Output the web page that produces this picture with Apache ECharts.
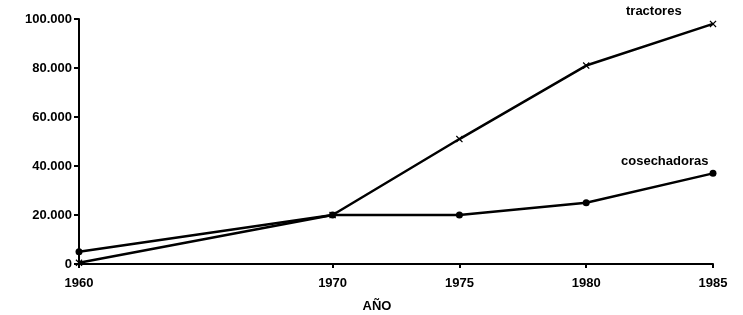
<!DOCTYPE html>
<html><head><meta charset="utf-8">
<script src="https://cdn.jsdelivr.net/npm/echarts@6/dist/echarts.min.js"></script>
<style>html,body{margin:0;padding:0;background:#fff}#c{width:743px;height:315px}</style>
</head><body><div id="c"></div>
<script>
const years = [1960, 1970, 1975, 1980, 1985];
const tractores = [500, 20000, 51000, 81000, 98000];
const cosechadoras = [5000, 20000, 20000, 25000, 37000];
const yTicks = [0, 20000, 40000, 60000, 80000, 100000];
const seriesNames = ['tractores', 'cosechadoras'];
const xName = 'AÑO';

const font = '"Liberation Sans", Arial, sans-serif';
function pairs(vals){ return years.map((y,i)=>[y, vals[i]]); }
const crossPath = 'path://M0,0L3,3L0,6L1,7L4,4L7,7L8,6L5,3L8,0L7,-1L4,2L1,-1Z';

const chart = echarts.init(document.getElementById('c'));
chart.setOption({
  animation: false,
  backgroundColor: '#fff',
  grid: {left: 79, right: 30, top: 19, bottom: 51, containLabel: false, outerBoundsMode: 'none'},
  xAxis: {
    type: 'value', min: 1960, max: 1985, interval: 5,
    splitLine: {show: false},
    axisLine: {show: true, lineStyle: {color: '#000', width: 2}},
    axisTick: {show: true, length: 4, customValues: years, lineStyle: {color: '#000', width: 2}},
    axisLabel: {customValues: years, color: '#000', fontFamily: font, fontWeight: 'bold', fontSize: 13, margin: 13, formatter: v => String(v)},
    name: xName, nameLocation: 'middle', nameGap: 36,
    nameTextStyle: {color: '#000', fontFamily: font, fontWeight: 'bold', fontSize: 13, padding: [0, 38, 0, 0]}
  },
  yAxis: {
    type: 'value', min: 0, max: 100000, interval: 20000,
    splitLine: {show: false},
    axisLine: {show: true, lineStyle: {color: '#000', width: 2}},
    axisTick: {show: true, length: 5, lineStyle: {color: '#000', width: 2}},
    axisLabel: {color: '#000', fontFamily: font, fontWeight: 'bold', fontSize: 13, margin: 7,
      formatter: v => v === 0 ? '0' : v.toLocaleString('de-DE')}
  },
  series: [
    {
      name: seriesNames[0], type: 'line', data: pairs(tractores),
      symbol: crossPath, symbolSize: 7,
      lineStyle: {color: '#000', width: 2.5}, itemStyle: {color: '#000'},
      endLabel: {show: true, formatter: seriesNames[0], color: '#000', fontFamily: font, fontWeight: 'bold', fontSize: 13, offset: [-95, -12]}
    },
    {
      name: seriesNames[1], type: 'line', data: pairs(cosechadoras),
      symbol: 'circle', symbolSize: 7,
      lineStyle: {color: '#000', width: 2.5}, itemStyle: {color: '#000'},
      endLabel: {show: true, formatter: seriesNames[1], color: '#000', fontFamily: font, fontWeight: 'bold', fontSize: 13, offset: [-100, -12]}
    }
  ]
});
</script></body></html>
